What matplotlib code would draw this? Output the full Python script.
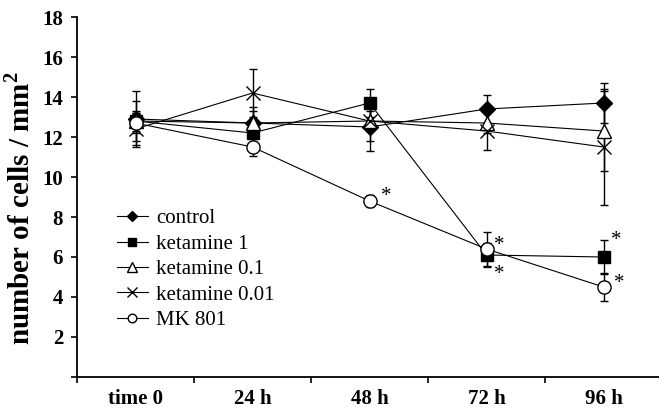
import matplotlib
matplotlib.use("Agg")
from matplotlib import pyplot as plt

# categories on the x axis
times = ['time 0', '24 h', '48 h', '72 h', '96 h']

# mean cell counts and their error bars
control = [12.9, 12.7, 12.5, 13.4, 13.7]
control_err = [1.4, 0.8, 1.2, 0.7, 1.0]
ket_1 = [12.8, 12.2, 13.7, 6.1, 6.0]
ket_1_err = [1.0, 0.6, 0.7, 0.6, 0.85]
ket_01 = [12.8, 12.7, 12.8, 12.7, 12.3]
ket_01_err = [0.5, 0.6, 0.5, 0.5, 2.0]
ket_001 = [12.4, 14.2, 12.8, 12.3, 11.5]
ket_001_err = [0.8, 1.2, 1.0, 0.95, 2.9]
mk801 = [12.7, 11.5, 8.8, 6.4, 4.5]
mk801_err = [0.5, 0.45, 0.3, 0.85, 0.7]

# significant points: (series, time index)
stars = [('mk', 2), ('mk', 3), ('k1', 3), ('k1', 4), ('mk', 4)]

plt.rcParams['font.family'] = ['Liberation Serif', 'DejaVu Serif']
plt.rcParams['mathtext.fontset'] = 'custom'
plt.rcParams['mathtext.rm'] = 'Liberation Serif:bold'
plt.rcParams['mathtext.bf'] = 'Liberation Serif:bold'

fig = plt.figure(figsize=(6.59, 4.08), dpi=100)
ax = fig.add_axes([77 / 659, 31 / 408, 585 / 659, 360 / 408])

x = list(range(len(times)))

series = [
    ('control', control, control_err, 'D', 'black', 8),
    ('ketamine 1', ket_1, ket_1_err, 's', 'black', 9),
    ('ketamine 0.1', ket_01, ket_01_err, '^', 'white', 10),
    ('ketamine 0.01', ket_001, ket_001_err, 'x', 'black', 10),
    ('MK 801', mk801, mk801_err, 'o', 'white', 9.5),
]

for i, (name, y, err, m, fc, ms) in enumerate(series):
    ax.errorbar(x, y, yerr=err, fmt='none', ecolor='black', elinewidth=1,
                capsize=2.6, capthick=1, zorder=2)
    ax.plot(x, y, color='black', lw=0.8, marker=m, markersize=ms,
            markerfacecolor=fc, markeredgecolor='black', markeredgewidth=1,
            label=name, zorder=3 + i)

# asterisks next to the significant points
lookup = {'mk': mk801, 'k1': ket_1}
offsets = [(12, 7), (9, 6.5), (9, -10), (9, 16), (11, 6)]
for (key, idx), (dx, dy) in zip(stars, offsets):
    ax.annotate('*', (idx, lookup[key][idx]), xytext=(dx, dy - 7),
                textcoords='offset points', ha='center', va='baseline',
                fontsize=15, zorder=10)

ax.set_xlim(-0.5, 4.5)
ax.set_ylim(0, 18)
ax.set_yticks(range(0, 19, 2))
ax.set_yticklabels([''] + [str(v) for v in range(2, 19, 2)],
                   fontsize=15, fontweight='bold')
ax.set_xticks(x)
ax.set_xticklabels(times, fontsize=15, fontweight='bold')
ax.set_xticks([v - 0.5 for v in x] + [4.5], minor=True)
ax.tick_params(axis='x', which='major', length=0, pad=9)
ax.tick_params(axis='x', which='minor', length=4, width=1.2, direction='out')
ax.tick_params(axis='y', length=4, width=1.2, direction='out', pad=6)

ax.set_ylabel('number of cells / mm$^{2}$', fontsize=21, fontweight='bold')
ax.yaxis.set_label_coords(-0.072, 0.468)

for s in ['top', 'right']:
    ax.spines[s].set_visible(False)
for s in ['left', 'bottom']:
    ax.spines[s].set_linewidth(1.3)

ax.legend(loc='upper left', bbox_to_anchor=(0.068, 0.467), frameon=False,
          fontsize=15, markerscale=0.65, handlelength=1.5, handletextpad=0.4,
          labelspacing=0.28, borderpad=0, borderaxespad=0)

plt.savefig('out.png', dpi=100)
